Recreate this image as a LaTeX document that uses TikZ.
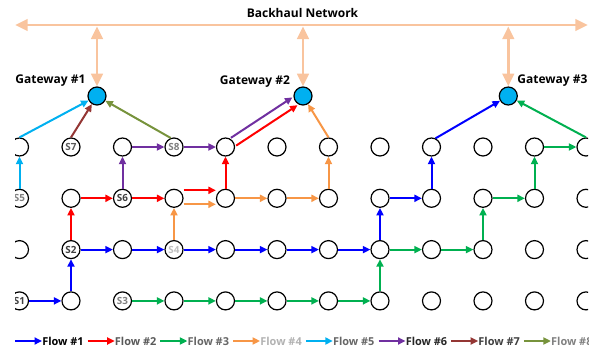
\documentclass[tikz,border=0pt]{standalone}
\usepackage{fontspec}
\setmainfont{Open Sans}
\usetikzlibrary{arrows.meta,calc}
\definecolor{fblue}{HTML}{0000FF}
\definecolor{fred}{HTML}{FF0000}
\definecolor{fgreen}{HTML}{00B050}
\definecolor{forange}{HTML}{F79646}
\definecolor{fcyan}{HTML}{00B0F0}
\definecolor{fpurple}{HTML}{7030A0}
\definecolor{fbrown}{HTML}{943634}
\definecolor{folive}{HTML}{77933C}
\definecolor{peach}{HTML}{F9C49E}
\definecolor{gwfill}{HTML}{00B0F0}
\begin{document}
\begin{tikzpicture}[x=0.75pt,y=-0.75pt,
  stn/.style={circle,draw=black,line width=0.9pt,fill=white,minimum size=13.5pt,inner sep=0pt},
  stext/.style={font=\bfseries\fontsize{7.4pt}{8pt}\selectfont,inner sep=0pt},
  gw/.style={circle,draw=black,line width=0.9pt,fill=gwfill,minimum size=13.5pt,inner sep=0pt},
  flow/.style={line width=1.5pt,-{Triangle[length=5.6pt,width=5.2pt]}},
  bh/.style={draw=peach,line width=2.2pt,{Triangle[length=9.5pt,width=8.5pt]}-{Triangle[length=9.5pt,width=8.5pt]}},
  lbl/.style={font=\bfseries\fontsize{9pt}{10pt}\selectfont,inner sep=0pt},
  leg/.style={font=\bfseries\fontsize{8.2pt}{10pt}\selectfont,inner sep=0pt,anchor=west}
]
\useasboundingbox (0,0) rectangle (597,351);
\clip (15,0) rectangle (588,351);

% station grid: 12 columns x 4 rows
\foreach \c in {0,...,11}
  \foreach \r in {0,...,3}
    \node[stn] (n-\c-\r) at ({19.5+51.5*\c},{147+51.3*\r}) {};

% station labels
\node[stext,text=black!75] (t1) at (n-0-3) {S1};
\node[stext,text=black!75] (t2) at (n-1-2) {S2};
\node[stext,text=black!50] (t3) at (n-2-3) {S3};
\node[stext,text=black!25] (t4) at (n-3-2) {S4};
\node[stext,text=black!50] (t5) at (n-0-1) {S5};
\node[stext,text=black!75] (t6) at (n-2-1) {S6};
\node[stext,text=black!65] (t7) at (n-1-0) {S7};
\node[stext,text=black!50] (t8) at (n-3-0) {S8};

% gateways
\node[gw] (gw1) at (97,96) {};
\node[gw] (gw2) at (303,96) {};
\node[gw] (gw3) at (508.3,96) {};
\node[lbl] (gl1) at (50.5,81) {Gateway \#1};
\node[lbl] (gl2) at (255,82) {Gateway \#2};
\node[lbl] (gl3) at (552.5,81) {Gateway \#3};

% backhaul
\node[lbl] (bhl) at (302.5,13) {Backhaul Network};
\coordinate (bhL) at (15,25);
\coordinate (bhR) at (588,25);
\coordinate (bh1) at (97,25);
\coordinate (bh2) at (303,25);
\coordinate (bh3) at (508.3,25);
\draw[bh] (bhL) -- (bhR);
\draw[bh,shorten <=1pt] (bh1) -- (gw1);
\draw[bh,shorten <=1pt] (bh2) -- (gw2);
\draw[bh,shorten <=1pt] (bh3) -- (gw3);

% Flow #1
\foreach \a/\b in {0-3/1-3,1-3/1-2,1-2/2-2,2-2/3-2,3-2/4-2,4-2/5-2,5-2/6-2,6-2/7-2,7-2/7-1,7-1/8-1,8-1/8-0}
  \draw[flow,fblue] (n-\a) -- (n-\b);
\draw[flow,fblue] (n-8-0.65) -- (gw3);

% Flow #2
\foreach \a/\b in {1-2/1-1,1-1/2-1,2-1/3-1,4-1/4-0}
  \draw[flow,fred] (n-\a) -- (n-\b);
\draw[flow,fred,transform canvas={shift={(0,-8)}}] (n-3-1) -- (n-4-1);
\draw[flow,fred,transform canvas={shift={(2.6,3.9)}}] (n-4-0) -- (gw2);

% Flow #3
\foreach \a/\b in {2-3/3-3,3-3/4-3,4-3/5-3,5-3/6-3,6-3/7-3,7-3/7-2,7-2/8-2,8-2/9-2,9-2/9-1,9-1/10-1,10-1/10-0,10-0/11-0}
  \draw[flow,fgreen] (n-\a) -- (n-\b);
\draw[flow,fgreen] (n-11-0.north) -- (gw3);

% Flow #4
\foreach \a/\b in {3-2/3-1,4-1/5-1,5-1/6-1,6-1/6-0}
  \draw[flow,forange] (n-\a) -- (n-\b);
\draw[flow,forange,transform canvas={shift={(0,6)}}] (n-3-1) -- (n-4-1);
\draw[flow,forange] (n-6-0.north) -- (gw2);

% Flow #5
\draw[flow,fcyan] (n-0-1) -- (n-0-0);
\draw[flow,fcyan] (n-0-0.north) -- (gw1);

% Flow #6
\foreach \a/\b in {2-1/2-0,2-0/3-0,3-0/4-0}
  \draw[flow,fpurple] (n-\a) -- (n-\b);
\draw[flow,fpurple,transform canvas={shift={(-2.6,-3.9)}}] (n-4-0) -- (gw2);

% Flow #7
\draw[flow,fbrown] (n-1-0.north) -- (gw1);

% Flow #8
\draw[flow,folive] (n-3-0.110) -- (gw1);

% legend
\foreach \k/\col/\txt [count=\i from 0] in {1/fblue/black,2/fred/black!65,3/fgreen/black!60,4/forange/black!30,5/fcyan/black!60,6/fpurple/black!85,7/fbrown/black!75,8/folive/black!50} {
  \node[leg,text=\txt] (lg\k) at ({42+72.7*\i},341) {Flow \#\k};
  \coordinate (la\k) at ({15+72.7*\i},341);
  \draw[flow,\col] (la\k) -- (lg\k.west);
}
\end{tikzpicture}
\end{document}
